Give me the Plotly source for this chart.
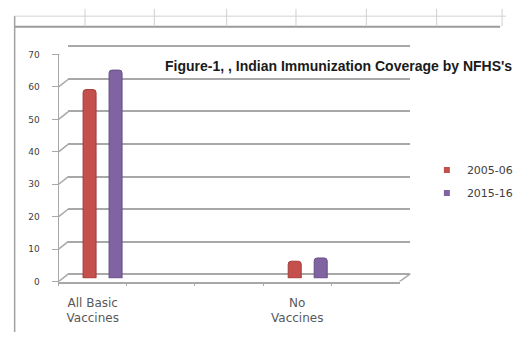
import plotly.graph_objects as go

# Coverage (%) from NFHS-3 (2005-06) and NFHS-4 (2015-16)
categories = ["All Basic<br>Vaccines", " ", "  ", "No<br>Vaccines", "   "]
series_names = ["2005-06", "2015-16"]
coverage_2005 = [58, None, None, 5.2, None]
coverage_2015 = [64, None, None, 6.2, None]
y_ticks = [0, 10, 20, 30, 40, 50, 60, 70]
title_text = "Figure-1, , Indian Immunization Coverage by NFHS's"

W, H = 518, 337
RED, PURPLE = "#C4504D", "#8064A2"
RED_EDGE, PURPLE_EDGE = "#A33B39", "#654C87"
GRID = "#A8A8A8"
UNIT = 234.6 / 70  # pixels per percentage point


def px(x):
    return x / W


def py(y):
    return 1 - y / H


fig = go.Figure()

# legend keys: small squares (they also open the back-wall subplot)
for name, col in [(series_names[0], RED), (series_names[1], PURPLE)]:
    fig.add_trace(go.Scatter(
        x=[None], y=[None], mode="markers", name=name, legendgroup=name,
        xaxis="x2", yaxis="y2",
        marker=dict(symbol="square", size=6, color=col),
    ))

# columns sit between the front edge and the back wall
for name, vals, col, edge in [
    (series_names[0], coverage_2005, RED, RED_EDGE),
    (series_names[1], coverage_2015, PURPLE, PURPLE_EDGE),
]:
    fig.add_trace(go.Bar(
        x=categories, y=vals, name=name, xaxis="x2", yaxis="y3",
        marker=dict(color=col, line=dict(color=edge, width=1), cornerradius=3),
        showlegend=False, hoverinfo="skip",
    ))

# empty trace so the front axes get drawn
fig.add_trace(go.Scatter(x=[None], y=[None], xaxis="x", yaxis="y",
                         showlegend=False, hoverinfo="skip"))

tick_font = dict(family="DejaVu Sans", size=9, color="#404040")
pad = 0.5  # small margin so the end gridlines are kept

fig.update_layout(
    width=W, height=H,
    margin=dict(l=0, r=0, t=0, b=0),
    paper_bgcolor="white", plot_bgcolor="rgba(0,0,0,0)",
    barmode="group", bargap=0.24, bargroupgap=0.5,
    # front axes: labels, ticks and floor edge
    xaxis=dict(
        domain=[px(60), px(409)], type="category", categoryorder="array",
        categoryarray=categories, range=[-0.5, 4.5], anchor="y",
        tickson="boundaries", ticks="outside", ticklen=3, tickcolor=GRID,
        showline=True, linecolor=GRID, linewidth=1.5, showgrid=False,
        tickfont=dict(family="DejaVu Sans", size=12, color="#595959"),
        ticklabelstandoff=9, fixedrange=True,
    ),
    yaxis=dict(
        domain=[py(285), py(51)], range=[0, 70], anchor="x",
        tickvals=y_ticks, ticks="outside", ticklen=6, tickcolor=GRID,
        showline=True, linecolor=GRID, linewidth=1, showgrid=False,
        zeroline=False, tickfont=tick_font, ticklabelstandoff=10,
        fixedrange=True,
    ),
    # back wall with horizontal gridlines
    xaxis2=dict(
        domain=[px(70), px(420)], type="category", categoryorder="array",
        categoryarray=categories, range=[-0.5, 4.5], anchor="y2",
        showticklabels=False, ticks="", showgrid=False, showline=False,
        zeroline=False, fixedrange=True,
    ),
    yaxis2=dict(
        domain=[py(277.3 + pad * UNIT), py(42.7 - pad * UNIT)],
        range=[-pad, 70 + pad], anchor="x2",
        tickvals=y_ticks, showgrid=True, gridcolor=GRID, gridwidth=1.5,
        showticklabels=False, ticks="", zeroline=False, showline=False,
        fixedrange=True,
    ),
    # column scale at mid depth
    yaxis3=dict(
        domain=[py(281.5), py(47)], range=[0, 70], anchor="x2",
        visible=False, fixedrange=True,
    ),
    legend=dict(
        x=px(437), y=py(155), xanchor="left", yanchor="top",
        font=dict(family="DejaVu Sans", size=11, color="#404040"),
        bgcolor="rgba(0,0,0,0)", tracegroupgap=4, itemwidth=30,
    ),
    showlegend=True,
)

shapes = []
# side-wall diagonals joining front ticks to back gridlines
for v in y_ticks:
    shapes.append(dict(
        type="line", xref="paper", yref="y", x0=px(60), x1=px(70),
        ysizemode="pixel", yanchor=v, y0=0, y1=7.7,
        line=dict(color=GRID, width=1.5),
    ))
# right edge of the floor
shapes.append(dict(
    type="line", xref="paper", yref="y", x0=px(409), x1=px(420),
    ysizemode="pixel", yanchor=0, y0=0, y1=7.7,
    line=dict(color=GRID, width=1.5),
))
# worksheet cell borders around the chart
shapes.append(dict(type="line", xref="paper", yref="paper",
                   x0=px(15), x1=1, y0=py(11.5), y1=py(11.5),
                   line=dict(color="#D4D4D4", width=1)))
shapes.append(dict(type="line", xref="paper", yref="paper",
                   x0=px(15), x1=px(512), y0=py(22.5), y1=py(22.5),
                   line=dict(color="#9A9A9A", width=2)))
shapes.append(dict(type="line", xref="paper", yref="paper",
                   x0=px(15), x1=px(15), y0=py(11.5), y1=0,
                   line=dict(color="#A0A0A0", width=1.5)))
for cx in [87, 158, 232, 303, 375, 447, 514]:
    shapes.append(dict(type="line", xref="paper", yref="paper",
                       x0=px(cx), x1=px(cx), y0=py(4), y1=py(22),
                       line=dict(color="#D0D0D0", width=1)))
fig.update_layout(shapes=shapes)

fig.add_annotation(
    text=title_text, xref="paper", yref="paper",
    x=px(167), y=py(63), xanchor="left", yanchor="middle", showarrow=False,
    font=dict(family="Liberation Sans Narrow, Liberation Sans", size=14,
              color="#1A1A1A", weight="bold"),
)

fig.write_html("out.html")
